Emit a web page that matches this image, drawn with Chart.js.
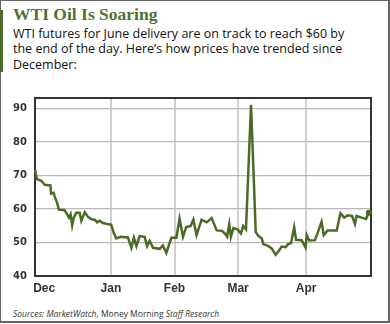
<!DOCTYPE html>
<html>
<head>
<meta charset="utf-8">
<script src="https://cdn.jsdelivr.net/npm/chart.js@4"></script>
<style>
    html, body { margin: 0; padding: 0; background: #fff; }
    #card {
        position: relative;
        width: 390px;
        height: 324px;
        overflow: hidden;
    }
    #frame {
        position: absolute;
        left: 0; top: 0;
        width: 387px; height: 320px;
        border: 1px solid #666;
        border-right-width: 2px;
        border-bottom-width: 2px;
    }
    #accent {
        position: absolute;
        left: 0; top: 10px;
        width: 3px; height: 62px;
        background: #4b6b2c;
    }
    #title {
        position: absolute;
        left: 13px; top: 4px;
        font: bold 17.5px "Liberation Serif", serif;
        color: #4d7332;
        white-space: nowrap;
    }
    #subtitle {
        position: absolute;
        left: 13px; top: 26px;
        font: 12.5px "Open Sans", sans-serif;
        line-height: 15.3px;
        color: #111;
        white-space: nowrap;
    }
    #sources {
        position: absolute;
        left: 13px; top: 308px;
        font: 8.5px "Open Sans", sans-serif;
        color: #333;
        white-space: nowrap;
    }
    #chart-box {
        position: absolute;
        left: 0; top: 84px;
        width: 390px; height: 222px;
    }
</style>
</head>
<body>
<div id="card">
    <div id="frame"></div>
    <div id="accent"></div>
    <div id="title">WTI Oil Is Soaring</div>
    <div id="subtitle">WTI futures for June delivery are on track to reach $60 by<br>the end of the day. Here’s how prices have trended since<br>December:</div>
    <div id="chart-box"><canvas id="oilChart"></canvas></div>
    <div id="sources"><i>Sources: MarketWatch</i>, Money Morning <i>Staff Research</i></div>
</div>

<script>
// trading sessions counted from the first day shown (late November)
const sessions = [
    0, 0.6, 2.0, 3.1, 4.9, 5.1, 5.9, 6.3, 7.0, 7.6,
    9.4, 9.9, 10.8, 11.3, 11.8, 12.3, 13.1, 14.2, 14.7, 15.8,
    16.8, 17.9, 19.0, 19.7, 20.5, 21.6, 22.9, 24.2, 25.0, 25.8,
    27.2, 29.5, 30.6, 31.4, 32.2, 33.2, 34.8, 35.6, 36.4, 37.5,
    39.6, 40.6, 41.7, 43.3, 44.9, 45.9, 47.0, 48.0, 49.4, 50.3,
    51.3, 52.9, 54.5, 56.1, 57.7, 59.3, 60.3, 61.0, 61.7, 62.2,
    63.0, 64.3, 65.4, 66.1, 67.0, 68.6, 70.1, 70.8, 72.0, 72.5,
    74.1, 75.2, 76.4, 77.5, 78.3, 79.6, 80.4, 81.3, 82.3, 82.9,
    84.7, 85.9, 86.3, 87.1, 88.9, 89.7, 91.0, 91.7, 92.9, 95.8,
    97.0, 98.2, 99.3, 100.7, 101.6, 102.1, 103.7, 105.1, 106.0
];

// WTI front-month price, $/barrel
const prices = [
    71.6, 68.9, 68.4, 67.2, 67.0, 64.6, 64.8, 63.6, 61.9, 59.8,
    59.6, 58.9, 57.4, 58.4, 55.1, 57.4, 58.9, 58.9, 56.5, 59.0,
    57.7, 56.9, 56.8, 56.0, 56.5, 55.8, 55.5, 55.3, 52.9, 51.2,
    51.7, 51.5, 48.4, 51.4, 48.9, 51.9, 51.7, 48.9, 50.5, 48.4,
    48.1, 49.1, 46.9, 51.4, 51.4, 57.1, 51.7, 54.6, 54.9, 56.8,
    52.2, 56.8, 56.0, 57.3, 53.6, 53.5, 52.7, 51.7, 55.5, 51.7,
    54.3, 53.9, 52.7, 54.9, 53.9, 91.1, 53.1, 52.1, 51.2, 49.5,
    48.9, 48.2, 46.3, 47.6, 48.8, 48.6, 49.5, 49.8, 54.6, 50.8,
    50.7, 48.5, 52.2, 50.6, 50.7, 52.7, 56.2, 52.2, 53.6, 53.6,
    58.7, 57.4, 58.1, 57.9, 55.5, 57.9, 57.4, 57.0, 58.9
];

const monthLabels = ['Dec', 'Jan', 'Feb', 'Mar', 'Apr'];
const monthStarts = [2.9, 24.1, 44.3, 64.5, 86.1];
const priceTicks = [40, 50, 60, 70, 80, 90];

const lineColor = '#4a6b26';

// box around the plot area (Chart.js only draws the axis sides)
const plotFrame = {
    id: 'plotFrame',
    beforeDatasetsDraw(chart) {
        const { ctx, chartArea: a } = chart;
        ctx.save();
        ctx.strokeStyle = '#333';
        ctx.lineWidth = 2;
        ctx.strokeRect(a.left, a.top, a.right - a.left, a.bottom - a.top);
        ctx.restore();
    }
};

const ctx = document.getElementById('oilChart').getContext('2d');
new Chart(ctx, {
    type: 'line',
    data: {
        datasets: [{
            data: sessions.map((s, i) => ({ x: s, y: prices[i] })),
            borderColor: lineColor,
            backgroundColor: lineColor,
            borderWidth: 2.5,
            tension: 0,
            pointRadius: c => (c.dataIndex === prices.length - 1 ? 3 : 0),
            pointBorderWidth: 0,
            clip: 4
        }]
    },
    options: {
        responsive: true,
        maintainAspectRatio: false,
        animation: false,
        layout: { padding: { top: 6, right: 19, left: 0, bottom: 0 } },
        plugins: {
            legend: { display: false },
            tooltip: { enabled: false }
        },
        scales: {
            x: {
                type: 'linear',
                min: 0,
                max: 106.7,
                afterBuildTicks: s => { s.ticks = monthStarts.map(v => ({ value: v })); },
                afterFit: s => { s.height = 30; },
                ticks: {
                    callback: (v, i) => monthLabels[i],
                    autoSkip: false,
                    maxRotation: 0,
                    padding: 5,
                    color: '#333',
                    font: { family: 'Liberation Sans', size: 12, weight: 'bold' }
                },
                grid: {
                    color: c => (c.index === 0 ? 'rgba(0,0,0,0)' : '#cfcfcf'),
                    lineWidth: 2,
                    drawTicks: false
                },
                border: { display: false }
            },
            y: {
                min: 40,
                max: 93.1,
                afterBuildTicks: s => { s.ticks = priceTicks.map(v => ({ value: v })); },
                afterFit: s => { s.width = 35; },
                ticks: {
                    padding: 8,
                    color: '#333',
                    font: { family: 'DejaVu Sans', size: 10, weight: 'bold' }
                },
                grid: {
                    color: '#b8b8b8',
                    lineWidth: 1.3,
                    drawTicks: false
                },
                border: { display: false }
            }
        }
    },
    plugins: [plotFrame]
});
</script>
</body>
</html>
